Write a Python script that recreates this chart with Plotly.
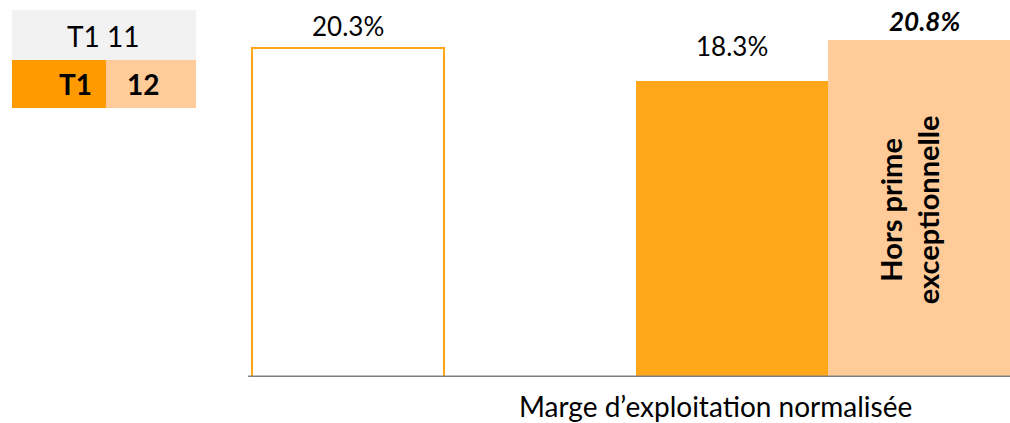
import plotly.graph_objects as go

# Data
categories = ["T1 11", "T1 12", "T1 12 hors prime"]
values = [20.3, 18.3, 20.8]
labels = ["20.3%", "18.3%", "<b><i>20.8%</i></b>"]
slots = [0, 2, 3]
axis_title = "Marge d\u2019exploitation normalisée"
inner_text = "<b>Hors prime<br>exceptionnelle</b>"

W, H = 1010, 423
FONT = "Lato, Open Sans, sans-serif"
ORANGE_EDGE = "#FFA514"
ORANGE = "#FFA719"
LIGHT = "#FFCC99"
LEG_ORANGE = "#FF9A00"

PLOT_H = 377  # plot area height in px (margin b = H - PLOT_H)


def px_x(p):
    return p / W


def px_y(p):
    return (PLOT_H - p) / PLOT_H


fig = go.Figure()
fig.add_trace(go.Bar(
    x=slots, y=values, width=1,
    marker=dict(color=["white", ORANGE, LIGHT],
                line=dict(color=[ORANGE_EDGE, ORANGE, LIGHT], width=[2, 0, 0])),
    hoverinfo="skip", showlegend=False,
))

label_shift = [4, 17, 1]
for xi, v, t, s in zip(slots, values, labels, label_shift):
    fig.add_annotation(x=xi, y=v, text=t, showarrow=False, xanchor="center", yanchor="bottom",
                       yshift=s, font=dict(family=FONT, size=26, color="black"))

fig.add_annotation(x=slots[2], y=values[2] * 0.495, text=inner_text, textangle=-90,
                   showarrow=False, xanchor="center", yanchor="middle", xshift=-15,
                   font=dict(family=FONT, size=29, color="black"), align="center")

# axis title
fig.add_annotation(x=px_x(715), y=px_y(406), xref="paper", yref="paper", text=axis_title,
                   showarrow=False, xanchor="center", yanchor="middle",
                   font=dict(family=FONT, size=28, color="black"))

# baseline
fig.add_shape(type="line", xref="x", yref="y", x0=-0.52, x1=3.6, y0=0, y1=0,
              line=dict(color="#808080", width=3))

# legend boxes
def box(x0, y0, x1, y1, color):
    fig.add_shape(type="rect", xref="paper", yref="paper", x0=px_x(x0), x1=px_x(x1),
                  y0=px_y(y1), y1=px_y(y0), fillcolor=color, line=dict(width=0), layer="below")

box(12, 10, 196, 60, "#F2F2F2")
box(12, 60, 106, 108, LEG_ORANGE)
box(106, 60, 196, 108, LIGHT)


def legend_text(x, y, t):
    fig.add_annotation(x=px_x(x), y=px_y(y), xref="paper", yref="paper", text=t,
                       showarrow=False, xanchor="center", yanchor="middle",
                       font=dict(family=FONT, size=28, color="black"))


legend_text(103, 36, "T1 11")
legend_text(75, 84, "<b>T1</b>")
legend_text(143, 84, "<b>12</b>")

x_lo = -348 / 192
x_hi = (W - 348) / 192
fig.update_layout(
    width=W, height=H,
    margin=dict(l=0, r=0, t=0, b=H - PLOT_H),
    plot_bgcolor="white", paper_bgcolor="white",
    xaxis=dict(range=[x_lo, x_hi], visible=False, fixedrange=True),
    yaxis=dict(range=[0, PLOT_H / 16.2], visible=False, fixedrange=True),
    bargap=0,
)
fig.write_html("out.html")
